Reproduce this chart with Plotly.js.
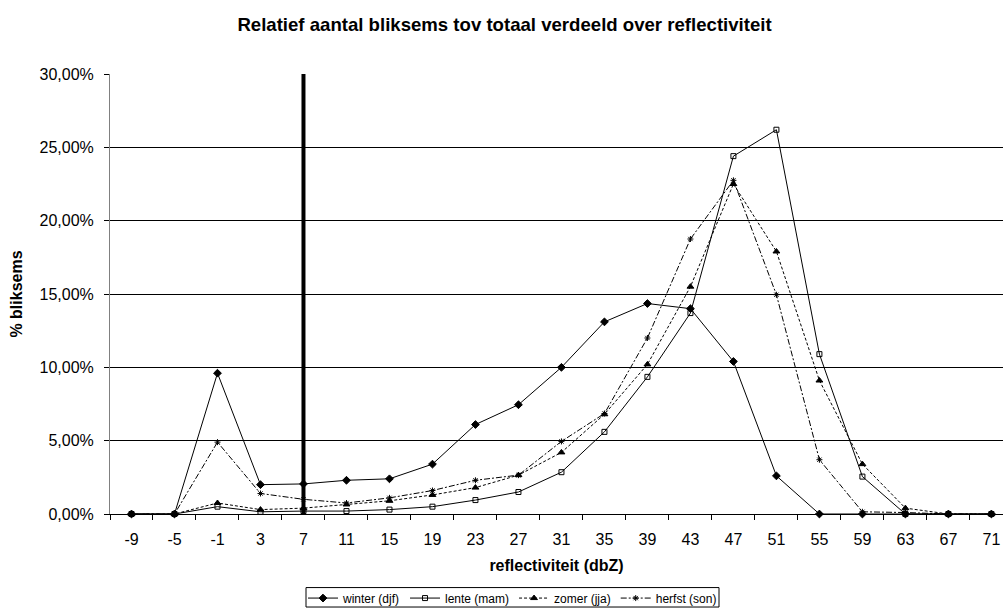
<!DOCTYPE html>
<html>
<head>
<meta charset="utf-8">
<script src="https://cdn.plot.ly/plotly-3.0.1.min.js"></script>
<style>html,body{margin:0;padding:0;background:#fff;}#chart{width:1003px;height:609px;}</style>
</head>
<body>
<div id="chart"></div>
<script>
const categories = ['-9','-5','-1','3','7','11','15','19','23','27','31','35','39','43','47','51','55','59','63','67','71'];
const winter = [0,0,0.096,0.020,0.0205,0.023,0.024,0.034,0.061,0.0745,0.100,0.131,0.1435,0.140,0.104,0.026,0,0,0,0,0];
const lente  = [0,0,0.005,0.0015,0.002,0.002,0.003,0.005,0.0095,0.015,0.0285,0.056,0.0935,0.137,0.244,0.262,0.109,0.0255,0,0,0];
const zomer  = [0,0,0.0075,0.003,0.004,0.0065,0.009,0.013,0.018,0.0265,0.042,0.068,0.102,0.155,0.225,0.179,0.091,0.034,0.004,0,0];
const herfst = [0,0,0.049,0.014,0.010,0.0075,0.011,0.016,0.023,0.0265,0.0495,0.0685,0.120,0.1875,0.2275,0.1495,0.037,0.0015,0.001,0,0];
const seriesNames = ['winter (djf)','lente (mam)','zomer (jja)','herfst (son)'];
const grensCategorie = '7';
const yTicks = [0,0.05,0.10,0.15,0.20,0.25,0.30];

const font = 'Liberation Sans, Arial, sans-serif';
const mk = (name, y, dash, symbol, size) => ({
  type: 'scatter', mode: 'lines+markers', name: name, x: categories, y: y,
  line: {color: '#000', width: 1, dash: dash},
  marker: {symbol: symbol, size: size, color: '#000', line: {color: '#000', width: 1}},
  cliponaxis: false
});
const traces = [
  mk(seriesNames[0], winter, 'solid', 'diamond', 6),
  mk(seriesNames[1], lente, 'solid', 'square-open', 5),
  mk(seriesNames[2], zomer, '3px,2px', 'triangle-up', 6),
  mk(seriesNames[3], herfst, '6px,2px,2px,2px', 'asterisk-open', 5)
];
const grensIndex = categories.indexOf(grensCategorie);

// plot area geometry (for converting pixel layout positions to paper fractions)
const W = 1003, H = 609, L = 110, T = 73.5, B = 94.7;
const pw = W - L, ph = H - T - B, plotBottom = H - B;
const px = v => (v - L) / pw;
const py = v => (plotBottom - v) / ph;

const layout = {
  width: W, height: H,
  margin: {l: L, r: 0, t: T, b: B, autoexpand: false},
  paper_bgcolor: '#fff', plot_bgcolor: '#fff',
  separators: ',.',
  font: {family: font, size: 16, color: '#000'},
  title: {text: '<b>Relatief aantal bliksems tov totaal verdeeld over reflectiviteit</b>',
          font: {family: font, size: 18.6, color: '#000'}, x: 0.503, xanchor: 'center', y: 0.9606, yanchor: 'middle'},
  xaxis: {
    type: 'category', range: [-0.5, 20.27],
    showline: true, linecolor: '#000', linewidth: 1,
    ticks: 'outside', ticklen: 5, tickcolor: '#000', tickson: 'boundaries',
    ticklabelstandoff: 11,
    showgrid: false, zeroline: false,
    tickfont: {family: font, size: 16, color: '#000'},
    title: {text: '<b>reflectiviteit (dbZ)</b>', font: {family: font, size: 16, color: '#000'}, standoff: 12}
  },
  yaxis: {
    range: [0, 0.30], tickvals: yTicks, tickformat: '.2%',
    showline: true, linecolor: '#808080', linewidth: 1,
    ticks: 'outside', ticklen: 5, tickcolor: '#000',
    ticklabelstandoff: 7,
    showgrid: true, gridcolor: '#000', gridwidth: 1, zeroline: false,
    tickfont: {family: font, size: 16, color: '#000'},
    title: {text: '<b>% bliksems</b>', font: {family: font, size: 16, color: '#000'}, standoff: 12}
  },
  legend: {
    orientation: 'h', xref: 'paper', x: px(512.5), xanchor: 'center', y: py(584), yanchor: 'top',
    borderwidth: 0, bgcolor: 'rgba(0,0,0,0)',
    font: {family: font, size: 12, color: '#000'},
    itemwidth: 30, tracegroupgap: 0
  },
  shapes: [
    {type: 'line', xref: 'x', yref: 'y', x0: grensIndex, x1: grensIndex, y0: 0, y1: 0.30,
     line: {color: '#000', width: 4}, layer: 'above'},
    {type: 'rect', xref: 'paper', yref: 'paper', x0: px(306), x1: px(719), y0: py(607.5), y1: py(588),
     line: {color: '#000', width: 1}, fillcolor: 'rgba(0,0,0,0)', layer: 'below'}
  ],
  showlegend: true
};
Plotly.newPlot('chart', traces, layout, {displayModeBar: false, staticPlot: true});
</script>
</body>
</html>
